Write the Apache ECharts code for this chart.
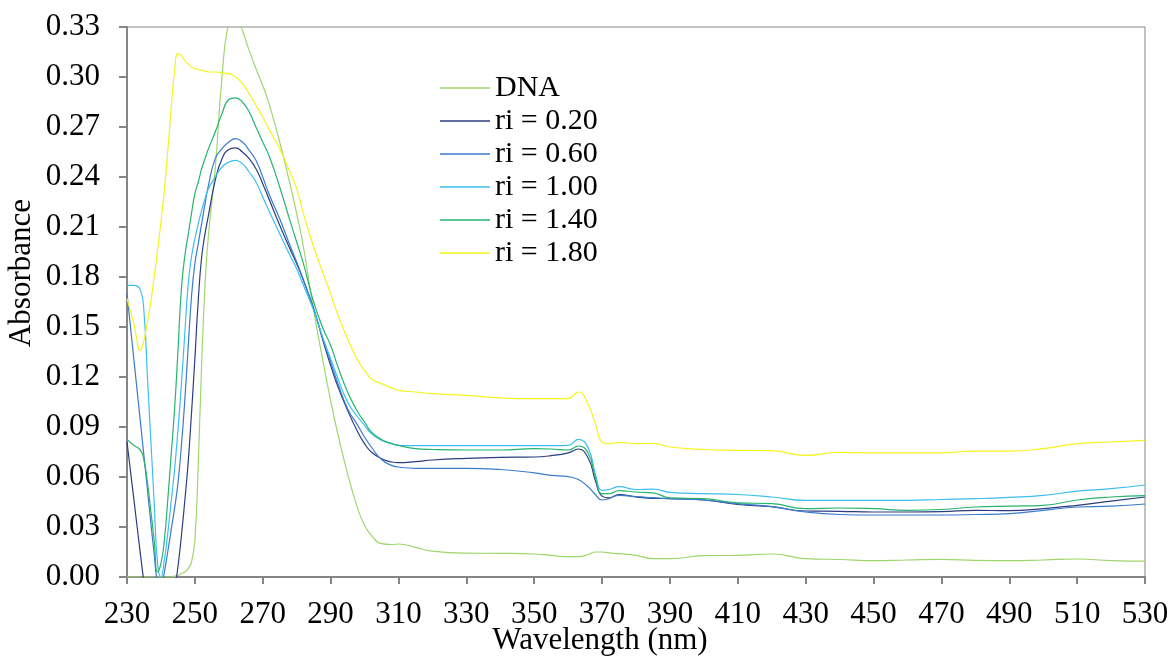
<!DOCTYPE html>
<html>
<head>
<meta charset="utf-8">
<title>Absorbance spectra</title>
<script src="https://cdn.jsdelivr.net/npm/echarts@6/dist/echarts.min.js"></script>
<style>
  html, body { margin: 0; padding: 0; background: #fff; }
  #chart { width: 1170px; height: 657px; }
</style>
</head>
<body>
<div id="chart"></div>
<script>
// wavelength (nm) – denser sampling where the curves change fast
const wavelengths = [
  230, 232, 234, 235, 236, 237, 238, 239, 240, 241, 242, 243, 244, 245, 246, 247, 248, 249, 250, 251, 252, 253, 254,
  256, 258, 260, 262, 264, 266, 268, 270, 272, 275, 278, 280, 282, 285, 288, 290, 292, 295, 298, 300, 302, 305, 308, 310,
  315, 320, 330, 340, 350, 355, 360, 363, 366, 368, 370, 372, 375, 380, 385, 390,
  400, 410, 420, 430, 440, 450, 460, 470, 480, 490, 500, 510, 520, 530
];

const dna = [
  0, 0, 0, 0, 0, 0, 0, 0, 0, 0, 0, 0, 0.0005, 0.001, 0.002, 0.003, 0.005, 0.009, 0.022, 0.068, 0.128, 0.175, 0.205,
  0.245, 0.300, 0.333, 0.338, 0.328, 0.316, 0.305, 0.295, 0.283, 0.261, 0.236, 0.218, 0.198, 0.160, 0.127, 0.106, 0.087, 0.062, 0.041, 0.031, 0.025, 0.020, 0.0195, 0.0198,
  0.0178, 0.0155, 0.0143, 0.0142, 0.0138, 0.013, 0.0122, 0.0122, 0.0135, 0.015, 0.015, 0.0145, 0.014, 0.013, 0.011, 0.011,
  0.0128, 0.013, 0.0138, 0.011, 0.0105, 0.0098, 0.0102, 0.0106, 0.010, 0.0098, 0.0102, 0.0108, 0.0098, 0.0095
];

const ri020 = [
  0.081, 0.047, 0.013, -0.003, -0.015, -0.024, -0.030, -0.034, -0.035, -0.033, -0.027, -0.019, -0.008, 0.006, 0.024, 0.045, 0.068, 0.098, 0.131, 0.166, 0.192, 0.206, 0.217,
  0.238, 0.251, 0.2565, 0.2575, 0.255, 0.251, 0.245, 0.236, 0.226, 0.211, 0.197, 0.188, 0.178, 0.161, 0.140, 0.127, 0.115, 0.100, 0.087, 0.080, 0.075, 0.071, 0.069, 0.0686,
  0.0692, 0.0702, 0.0712, 0.0718, 0.072, 0.0728, 0.0745, 0.0768, 0.071, 0.058, 0.0485, 0.0475, 0.0495, 0.048, 0.0472, 0.047,
  0.0462, 0.0435, 0.0422, 0.0396, 0.0394, 0.039, 0.039, 0.0392, 0.040, 0.0398, 0.041, 0.043, 0.0455, 0.048
];

const ri060 = [
  0.170, 0.131, 0.092, 0.0725, 0.053, 0.033, 0.014, -0.003, -0.005, 0.003, 0.015, 0.028, 0.041, 0.056, 0.078, 0.105, 0.137, 0.168, 0.188, 0.200, 0.212, 0.224, 0.235,
  0.251, 0.257, 0.261, 0.263, 0.261, 0.256, 0.250, 0.240, 0.229, 0.215, 0.199, 0.189, 0.178, 0.161, 0.141, 0.129, 0.117, 0.101, 0.091, 0.084, 0.078, 0.0705, 0.067, 0.066,
  0.0652, 0.0652, 0.0652, 0.0645, 0.0625, 0.061, 0.0602, 0.0585, 0.054, 0.0495, 0.0462, 0.047, 0.049, 0.0482, 0.0476, 0.047,
  0.0462, 0.044, 0.0422, 0.039, 0.0375, 0.0372, 0.0372, 0.0372, 0.0375, 0.038, 0.040, 0.042, 0.0425, 0.0438
];

const ri100 = [
  0.175, 0.175, 0.172, 0.159, 0.121, 0.083, 0.045, 0.008, 0.000, 0.010, 0.026, 0.045, 0.064, 0.088, 0.115, 0.145, 0.175, 0.192, 0.203, 0.212, 0.220, 0.227, 0.233,
  0.240, 0.246, 0.249, 0.250, 0.248, 0.243, 0.237, 0.228, 0.219, 0.206, 0.193, 0.185, 0.175, 0.160, 0.142, 0.131, 0.120, 0.105, 0.096, 0.091, 0.086, 0.082, 0.080, 0.079,
  0.0788, 0.0788, 0.0788, 0.0788, 0.0788, 0.0788, 0.079, 0.0826, 0.077, 0.062, 0.052, 0.0525, 0.0542, 0.0525, 0.0527, 0.0508,
  0.050, 0.0495, 0.048, 0.046, 0.046, 0.046, 0.046, 0.0465, 0.047, 0.0478, 0.049, 0.0515, 0.053, 0.0552
];

const ri140 = [
  0.0826, 0.079, 0.076, 0.070, 0.057, 0.040, 0.022, 0.003, 0.008, 0.022, 0.046, 0.073, 0.100, 0.135, 0.172, 0.192, 0.205, 0.218, 0.230, 0.237, 0.245, 0.251, 0.257,
  0.267, 0.278, 0.2865, 0.2875, 0.285, 0.279, 0.270, 0.261, 0.252, 0.234, 0.214, 0.201, 0.188, 0.165, 0.148, 0.139, 0.127, 0.111, 0.099, 0.093, 0.087, 0.0825, 0.080, 0.079,
  0.077, 0.0765, 0.0762, 0.0762, 0.077, 0.0768, 0.0762, 0.0786, 0.074, 0.060, 0.050, 0.050, 0.0518, 0.051, 0.0505, 0.0475,
  0.047, 0.0445, 0.044, 0.041, 0.0414, 0.041, 0.040, 0.0405, 0.042, 0.0425, 0.043, 0.0462, 0.048, 0.0488
];

const ri180 = [
  0.167, 0.152, 0.136, 0.142, 0.153, 0.165, 0.180, 0.196, 0.213, 0.232, 0.255, 0.281, 0.303, 0.314, 0.313, 0.310, 0.308, 0.306, 0.305, 0.3045, 0.304, 0.3035, 0.303,
  0.303, 0.3025, 0.302, 0.300, 0.296, 0.290, 0.283, 0.276, 0.268, 0.257, 0.243, 0.233, 0.218, 0.198, 0.181, 0.170, 0.158, 0.143, 0.130, 0.124, 0.119, 0.116, 0.1135, 0.112,
  0.111, 0.110, 0.109, 0.1075, 0.107, 0.107, 0.107, 0.111, 0.103, 0.092, 0.081, 0.080, 0.0808, 0.080, 0.0802, 0.078,
  0.0765, 0.076, 0.0758, 0.073, 0.0748, 0.0745, 0.0745, 0.0745, 0.0755, 0.0755, 0.077, 0.080, 0.081, 0.082
];

const seriesNames = ['DNA', 'ri = 0.20', 'ri = 0.60', 'ri = 1.00', 'ri = 1.40', 'ri = 1.80'];
const seriesValues = [dna, ri020, ri060, ri100, ri140, ri180];
const seriesColors = ['#9fd66c', '#2b3d80', '#3a7bcb', '#3cbff0', '#26b470', '#f4f41c'];

const serif = "'Liberation Serif', 'Times New Roman', serif";
const axisGray = '#858585';

const chart = echarts.init(document.getElementById('chart'), null, { renderer: 'canvas' });

const option = {
  backgroundColor: '#ffffff',
  animation: false,
  grid: {
    left: 127,
    right: 25,
    top: 27,
    bottom: 80,
    outerBoundsMode: 'none',
    show: true,
    borderColor: axisGray,
    borderWidth: 1
  },
  legend: {
    orient: 'vertical',
    left: 440,
    top: 73,
    padding: 0,
    icon: 'rect',
    itemWidth: 50,
    itemHeight: 1.5,
    itemGap: 3,
    data: seriesNames,
    textStyle: { fontFamily: serif, fontSize: 30, color: '#000', lineHeight: 30 }
  },
  xAxis: {
    type: 'value',
    min: 230,
    max: 530,
    interval: 20,
    name: 'Wavelength (nm)',
    nameLocation: 'middle',
    nameGap: 48,
    nameMoveOverlap: false,
    nameTextStyle: { fontFamily: serif, fontSize: 31, color: '#000', padding: [0, 72, 0, 0] },
    axisLine: { lineStyle: { color: axisGray, width: 2 } },
    axisTick: { show: true, length: 7, lineStyle: { color: axisGray, width: 2 } },
    axisLabel: { fontFamily: serif, fontSize: 31, color: '#000', margin: 22 },
    splitLine: { show: false }
  },
  yAxis: {
    type: 'value',
    min: 0,
    max: 0.33,
    interval: 0.03,
    name: 'Absorbance',
    nameLocation: 'middle',
    nameGap: 90,
    nameMoveOverlap: false,
    nameTextStyle: { fontFamily: serif, fontSize: 31, color: '#000', padding: [0, 0, 0, 58] },
    axisLine: { show: true, lineStyle: { color: axisGray, width: 2 } },
    axisTick: { show: true, length: 8, lineStyle: { color: axisGray, width: 2 } },
    axisLabel: {
      fontFamily: serif,
      fontSize: 31,
      color: '#000',
      margin: 27,
      formatter: v => v.toFixed(2)
    },
    splitLine: { show: false }
  },
  series: seriesNames.map((name, k) => ({
    name: name,
    type: 'line',
    data: wavelengths.map((w, i) => [w, seriesValues[k][i]]),
    symbol: 'none',
    smooth: 0.5,
    clip: true,
    lineStyle: { width: 1.2, color: seriesColors[k] },
    itemStyle: { color: seriesColors[k] }
  }))
};

chart.setOption(option);
</script>
</body>
</html>
